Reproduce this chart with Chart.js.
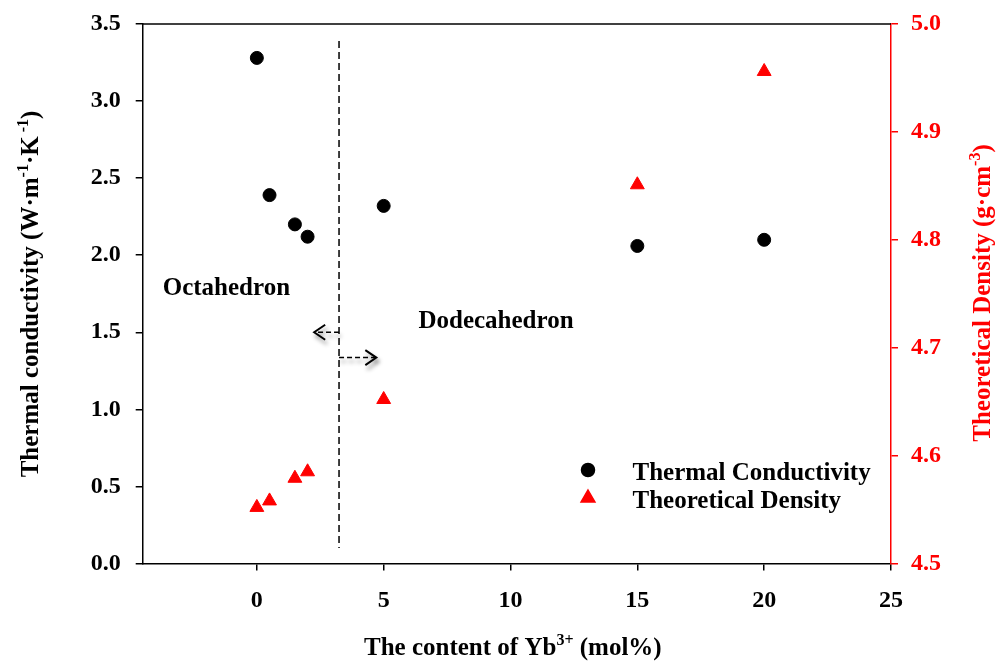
<!DOCTYPE html>
<html><head><meta charset="utf-8">
<script src="https://cdn.jsdelivr.net/npm/chart.js@4/dist/chart.umd.min.js"></script>
<style>html,body{margin:0;padding:0;background:#fff}#wrap{width:996px;height:666px}</style>
</head><body><div id="wrap"><canvas id="c" width="996" height="666"></canvas></div>
<script>
// ---- data ----
const ybContent = [0, 0.5, 1.5, 2, 5, 15, 20];
const thermalConductivity = [3.28, 2.39, 2.20, 2.12, 2.32, 2.06, 2.10];
const theoreticalDensity = [4.552, 4.558, 4.579, 4.585, 4.652, 4.851, 4.956];
const xTickValues = [0, 5, 10, 15, 20, 25];
const leftTickValues = [0, 0.5, 1.0, 1.5, 2.0, 2.5, 3.0, 3.5];
const rightTickValues = [4.5, 4.6, 4.7, 4.8, 4.9, 5.0];
const seriesNames = ['Thermal Conductivity', 'Theoretical Density'];
const regionLabels = ['Octahedron', 'Dodecahedron'];
const regionLabelX = [-3.71, 6.37];
const regionLabelY = [1.74, 1.53];
const dividerX = [3.24];
const dividerYRange = [0.10, 3.39];
const arrowY = [1.50, 1.336];
const arrowTipX = [2.26, 4.71];

const FONT = '"Liberation Serif", "Times New Roman", serif';
const RED = '#ff0000';

function drawRich(ctx, runs, x, y, size) {
  const mainF = 'bold ' + size + 'px ' + FONT;
  const supF = 'bold ' + Math.round(size * 0.62) + 'px ' + FONT;
  let total = 0;
  const widths = runs.map(r => { ctx.font = r.sup ? supF : mainF; const w = ctx.measureText(r.t).width; total += w; return w; });
  let cx = x - total / 2;
  ctx.textAlign = 'left';
  ctx.textBaseline = 'alphabetic';
  runs.forEach((r, i) => {
    ctx.font = r.sup ? supF : mainF;
    ctx.fillText(r.t, cx, r.sup ? y - size * 0.42 : y);
    cx += widths[i];
  });
}

const decor = {
  id: 'decor',
  afterDraw(chart) {
    const ctx = chart.ctx, ca = chart.chartArea;
    const xs = chart.scales.x, ys = chart.scales.y;
    ctx.save();
    // top border
    ctx.strokeStyle = '#000'; ctx.lineWidth = 1.5;
    ctx.beginPath(); ctx.moveTo(ca.left, ca.top); ctx.lineTo(ca.right, ca.top); ctx.stroke();

    // divider
    const dx = xs.getPixelForValue(dividerX[0]);
    ctx.setLineDash([7, 4]); ctx.lineWidth = 1.5;
    ctx.beginPath(); ctx.moveTo(dx, ys.getPixelForValue(dividerYRange[1])); ctx.lineTo(dx, ys.getPixelForValue(dividerYRange[0])); ctx.stroke();

    // arrows
    for (let i = 0; i < arrowY.length; i++) {
      const ay = ys.getPixelForValue(arrowY[i]);
      const tx = xs.getPixelForValue(arrowTipX[i]);
      const dir = tx < dx ? -1 : 1;
      ctx.save();
      ctx.shadowColor = 'rgba(0,0,0,0.45)'; ctx.shadowBlur = 4; ctx.shadowOffsetX = 2; ctx.shadowOffsetY = 4;
      ctx.setLineDash([5, 3]); ctx.lineWidth = 1.6;
      ctx.beginPath(); ctx.moveTo(dx, ay); ctx.lineTo(tx, ay); ctx.stroke();
      ctx.setLineDash([]); ctx.lineWidth = 2;
      ctx.beginPath(); ctx.moveTo(tx - dir * 11, ay - 7.5); ctx.lineTo(tx, ay); ctx.lineTo(tx - dir * 11, ay + 7.5); ctx.stroke();
      ctx.restore();
    }
    ctx.setLineDash([]);

    // region labels
    ctx.fillStyle = '#000';
    ctx.font = 'bold 25px ' + FONT; ctx.textAlign = 'left'; ctx.textBaseline = 'alphabetic';
    regionLabels.forEach((t, i) => ctx.fillText(t, xs.getPixelForValue(regionLabelX[i]), ys.getPixelForValue(regionLabelY[i])));

    // legend
    const lx = ca.right - 303;
    const rows = [ca.bottom - 93.5, ca.bottom - 65.5];
    const styles = [{ s: 'circle', c: '#000', r: 6.5 }, { s: 'triangle', c: RED, r: 8 }];
    rows.forEach((ry, i) => {
      ctx.fillStyle = styles[i].c; ctx.strokeStyle = styles[i].c;
      Chart.helpers.drawPoint(ctx, { pointStyle: styles[i].s, radius: styles[i].r, borderWidth: 1, rotation: 0 }, lx, ry);
      ctx.fillStyle = '#000';
      ctx.font = 'bold 25px ' + FONT; ctx.textAlign = 'left'; ctx.textBaseline = 'alphabetic';
      ctx.fillText(seriesNames[i], lx + 44.5, ry + 9.5);
    });

    // axis titles
    ctx.fillStyle = '#000';
    drawRich(ctx, [{ t: 'The content of Yb' }, { t: '3+', sup: true }, { t: ' (mol%)' }], (ca.left + ca.right) / 2 - 4, 655, 25);
    ctx.save(); ctx.translate(38, 294); ctx.rotate(-Math.PI / 2);
    drawRich(ctx, [{ t: 'Thermal conductivity (W·m' }, { t: '-1', sup: true }, { t: '·K' }, { t: ' -1', sup: true }, { t: ')' }], 0, 0, 25);
    ctx.restore();
    ctx.fillStyle = RED;
    ctx.save(); ctx.translate(990, 293); ctx.rotate(-Math.PI / 2);
    drawRich(ctx, [{ t: 'Theoretical Density (g·cm' }, { t: '-3', sup: true }, { t: ')' }], 0, 0, 25);
    ctx.restore();
    ctx.restore();
  }
};

const tickFont = { family: FONT, size: 24, weight: 'bold' };
const noPad = s => { s.paddingTop = 0; s.paddingBottom = 0; };

new Chart(document.getElementById('c'), {
  type: 'scatter',
  data: {
    datasets: [
      { label: seriesNames[0], data: ybContent.map((x, i) => ({ x, y: thermalConductivity[i] })), yAxisID: 'y',
        pointStyle: 'circle', pointRadius: 6.5, pointBorderWidth: 1, backgroundColor: '#000', borderColor: '#000', showLine: false },
      { label: seriesNames[1], data: ybContent.map((x, i) => ({ x, y: theoreticalDensity[i] })), yAxisID: 'y1',
        pointStyle: 'triangle', pointRadius: 8, pointBorderWidth: 1, backgroundColor: RED, borderColor: RED, showLine: false }
    ]
  },
  options: {
    responsive: false, animation: false, devicePixelRatio: 1,
    layout: { padding: { top: 24, left: 0, right: 0, bottom: 0 } },
    plugins: { legend: { display: false }, tooltip: { enabled: false } },
    scales: {
      x: {
        type: 'linear', min: -4.5, max: 25,
        afterBuildTicks: s => { s.ticks = xTickValues.map(v => ({ value: v })); },
        afterFit: s => { s.height = 102.5; s.paddingLeft = 0; s.paddingRight = 0; },
        ticks: { font: tickFont, color: '#000', padding: 16, maxRotation: 0, callback: v => String(v) },
        grid: { drawOnChartArea: false, tickLength: 7, color: '#000', lineWidth: 1.5 },
        border: { color: '#000', width: 1.5 }
      },
      y: {
        position: 'left', min: 0, max: 3.5,
        afterBuildTicks: s => { s.ticks = leftTickValues.map(v => ({ value: v })); },
        afterFit: s => { s.width = 142.7; noPad(s); },
        ticks: { font: tickFont, color: '#000', padding: 15, callback: v => Number(v).toFixed(1) },
        grid: { drawOnChartArea: false, tickLength: 7, color: '#000', lineWidth: 1.5 },
        border: { color: '#000', width: 1.5 }
      },
      y1: {
        position: 'right', min: 4.5, max: 5.0,
        afterBuildTicks: s => { s.ticks = rightTickValues.map(v => ({ value: v })); },
        afterFit: s => { s.width = 105; noPad(s); },
        ticks: { font: tickFont, color: RED, padding: 13, callback: v => Number(v).toFixed(1) },
        grid: { drawOnChartArea: false, tickLength: 7, color: RED, lineWidth: 1.5 },
        border: { color: RED, width: 1.5 }
      }
    }
  },
  plugins: [decor]
});
</script>
</body></html>
